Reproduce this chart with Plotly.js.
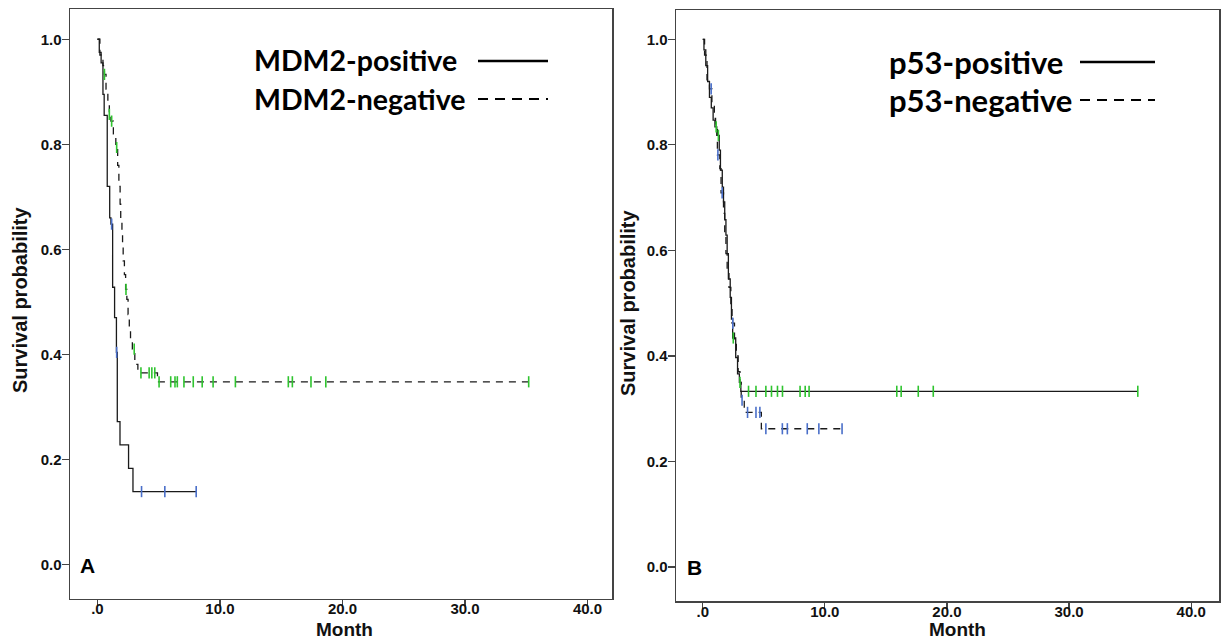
<!DOCTYPE html>
<html>
<head>
<meta charset="utf-8">
<script src="https://cdn.plot.ly/plotly-3.0.1.min.js"></script>
<style>html,body{margin:0;padding:0;background:#fff;}#chart{width:1226px;height:640px;}</style>
</head>
<body>
<div id="chart"></div>
<script>
// ---------- Panel A: MDM2 ----------
const A_pos_time = [0, 0.15, 0.3, 0.45, 0.55, 0.8, 1.0, 1.1, 1.24, 1.4, 1.55, 1.62, 1.84, 2.54, 2.9];
const A_pos_surv = [1.0, 0.975, 0.955, 0.895, 0.855, 0.72, 0.66, 0.648, 0.528, 0.47, 0.404, 0.272, 0.228, 0.183, 0.139];
const A_pos_censor = [1.16, 1.57, 3.6, 5.5, 8.06];

const A_neg_time = [0, 0.2, 0.45, 0.57, 0.7, 0.85, 0.97, 1.1, 1.3, 1.5, 1.65, 1.75, 1.85, 1.9, 2.0, 2.05, 2.1, 2.2, 2.3, 2.4, 2.5, 2.6, 2.7, 2.85, 3.05, 3.3, 4.9];
const A_neg_surv = [1.0, 0.97, 0.95, 0.933, 0.905, 0.875, 0.857, 0.844, 0.82, 0.794, 0.76, 0.72, 0.686, 0.657, 0.629, 0.606, 0.578, 0.552, 0.524, 0.505, 0.476, 0.451, 0.425, 0.41, 0.381, 0.365, 0.348];
const A_neg_censor = [0.57, 0.97, 1.16, 1.57, 2.33, 3.0, 3.55, 4.22, 4.44, 4.68, 5.03, 5.98, 6.33, 6.52, 7.06, 7.82, 8.55, 9.44, 11.26, 15.58, 15.91, 17.43, 18.64, 35.2];

// ---------- Panel B: p53 ----------
const B_pos_time = [0, 0.1, 0.25, 0.4, 0.55, 0.7, 0.85, 1.0, 1.15, 1.35, 1.45, 1.6, 1.7, 1.8, 1.9, 2.0, 2.1, 2.25, 2.35, 2.45, 2.7, 2.85, 3.0, 3.12];
const B_pos_surv = [1.0, 0.98, 0.95, 0.92, 0.89, 0.87, 0.847, 0.834, 0.818, 0.79, 0.752, 0.72, 0.692, 0.658, 0.629, 0.594, 0.546, 0.511, 0.47, 0.434, 0.397, 0.366, 0.35, 0.333];
const B_pos_censor = [1.1, 1.28, 2.5, 3.05, 3.75, 4.36, 5.17, 5.63, 6.12, 6.53, 7.97, 8.39, 8.71, 15.89, 16.25, 17.65, 18.88, 35.63];

const B_neg_time = [0, 0.15, 0.35, 0.55, 0.75, 0.95, 1.05, 1.2, 1.4, 1.5, 1.7, 1.8, 1.9, 2.0, 2.15, 2.3, 2.4, 2.6, 2.75, 2.9, 3.05, 3.15, 3.4, 4.8];
const B_neg_surv = [1.0, 0.97, 0.923, 0.906, 0.876, 0.85, 0.829, 0.781, 0.755, 0.709, 0.67, 0.63, 0.594, 0.56, 0.53, 0.49, 0.462, 0.43, 0.40, 0.37, 0.35, 0.316, 0.293, 0.262];
const B_neg_censor = [0.69, 1.24, 1.59, 2.46, 3.22, 3.67, 4.36, 4.68, 5.17, 6.52, 6.93, 8.56, 9.51, 11.41];

// ---------- labels ----------
const yTickVals = [0, 0.2, 0.4, 0.6, 0.8, 1.0];
const yTickText = ["0.0", "0.2", "0.4", "0.6", "0.8", "1.0"];
const xTickVals = [0, 10, 20, 30, 40];
const xTickText = [".0", "10.0", "20.0", "30.0", "40.0"];
const A_legend = ["MDM2-positive", "MDM2-negative"];
const B_legend = ["p53-positive", "p53-negative"];
const panelLabels = ["A", "B"];
const xTitle = "Month";
const yTitle = "Survival probability";

const GREEN = "#2fc42f", BLUE = "#4a6fc9", LINE = "#1a1a1a";

function survAt(t, s, time) {
  let v = s[0];
  for (let i = 0; i < t.length; i++) if (t[i] <= time) v = s[i];
  return v;
}
function stepTrace(t, s, cens, dashed, xa, ya) {
  const end = Math.max(t[t.length - 1], ...cens);
  return {
    x: t.concat([end]), y: s.concat([s[s.length - 1]]),
    type: "scatter", mode: "lines", xaxis: xa, yaxis: ya,
    line: {shape: "hv", color: LINE, width: 1.3, dash: dashed ? "7px,6px" : "solid"},
    hoverinfo: "skip", showlegend: false
  };
}
function censorTrace(t, s, cens, color, xa, ya) {
  return {
    x: cens, y: cens.map(c => survAt(t, s, c)),
    type: "scatter", mode: "markers", xaxis: xa, yaxis: ya,
    marker: {symbol: "line-ns-open", size: 8, line: {color: color, width: 1.6}, color: color},
    hoverinfo: "skip", showlegend: false
  };
}

const data = [
  stepTrace(A_neg_time, A_neg_surv, A_neg_censor, true, "x", "y"),
  stepTrace(A_pos_time, A_pos_surv, A_pos_censor, false, "x", "y"),
  censorTrace(A_neg_time, A_neg_surv, A_neg_censor, GREEN, "x", "y"),
  censorTrace(A_pos_time, A_pos_surv, A_pos_censor, BLUE, "x", "y"),
  stepTrace(B_neg_time, B_neg_surv, B_neg_censor, true, "x2", "y2"),
  stepTrace(B_pos_time, B_pos_surv, B_pos_censor, false, "x2", "y2"),
  censorTrace(B_neg_time, B_neg_surv, B_neg_censor, BLUE, "x2", "y2"),
  censorTrace(B_pos_time, B_pos_surv, B_pos_censor, GREEN, "x2", "y2")
];

const FAM = "Liberation Sans, Arial, sans-serif";
const tickFont = {family: FAM, size: 15, color: "#111", weight: "bold"};
const titleFont = {family: FAM, size: 20, color: "#111", weight: "bold"};
const xTitleFont = {family: FAM, size: 19, color: "#111", weight: "bold"};
function xax(domain, range) {
  return {domain: domain, range: range, tickvals: xTickVals, ticktext: xTickText, ticks: "outside", ticklen: 6,
    tickcolor: "#444", tickwidth: 1.2, showline: true, linecolor: "#444", linewidth: 1.5, mirror: true,
    showgrid: false, zeroline: false, tickfont: tickFont, automargin: false, ticklabelstandoff: -10};
}
function yax(domain, range) {
  return {domain: domain, range: range, tickvals: yTickVals, ticktext: yTickText, ticks: "outside", ticklen: 7,
    tickcolor: "#444", tickwidth: 1.2, showline: true, linecolor: "#444", linewidth: 1.5, mirror: true,
    showgrid: false, zeroline: false, tickfont: tickFont, automargin: false, ticklabelstandoff: -3};
}

const W = 1226, H = 640;
const legFontA = {family: "Lato, Noto Sans, sans-serif", size: 28.5, color: "#000", weight: "bold"};
const legFontB = {family: "Lato, Noto Sans, sans-serif", size: 31, color: "#000", weight: "bold"};
const panelFont = {family: FAM, size: 21, color: "#000", weight: "bold"};

function ann(x, y, text, font, extra) {
  return Object.assign({xref: "paper", yref: "paper", x: x / W, y: 1 - y / H, xanchor: "left", yanchor: "middle",
    text: text, showarrow: false, font: font}, extra || {});
}

const layout = {
  width: W, height: H, margin: {l: 0, r: 0, t: 0, b: 0},
  paper_bgcolor: "#fff", plot_bgcolor: "#fff", showlegend: false,
  xaxis: Object.assign(xax([70 / W, 612 / W], [-2.24, 42.0]), {anchor: "y"}),
  yaxis: Object.assign(yax([1 - 598.6 / H, 1 - 9 / H], [-0.0647, 1.0576]), {anchor: "x"}),
  xaxis2: Object.assign(xax([676 / W, 1219 / W], [-2.19, 42.28]), {anchor: "y2"}),
  yaxis2: Object.assign(yax([1 - 601 / H, 1 - 10 / H], [-0.0644, 1.0555]), {anchor: "x2"}),
  annotations: [
    ann(252, 60, A_legend[0], legFontA),
    ann(252, 99, A_legend[1], legFontA),
    ann(887, 62, B_legend[0], legFontB),
    ann(887, 100, B_legend[1], legFontB),
    ann(78, 565, panelLabels[0], panelFont),
    ann(685, 567, panelLabels[1], panelFont),
    ann(344, 629, xTitle, xTitleFont, {xanchor: "center"}),
    ann(957, 629, xTitle, xTitleFont, {xanchor: "center"}),
    ann(20, 300, yTitle, titleFont, {xanchor: "center", textangle: -90}),
    ann(628, 303, yTitle, titleFont, {xanchor: "center", textangle: -90})
  ],
  shapes: [
    {type: "line", xref: "paper", yref: "paper", x0: 478 / W, x1: 548 / W, y0: 1 - 61 / H, y1: 1 - 61 / H, line: {color: "#000", width: 2.5}},
    {type: "line", xref: "paper", yref: "paper", x0: 478 / W, x1: 548 / W, y0: 1 - 99 / H, y1: 1 - 99 / H, line: {color: "#000", width: 2.2, dash: "10px,7px"}},
    {type: "line", xref: "paper", yref: "paper", x0: 1080 / W, x1: 1155 / W, y0: 1 - 62 / H, y1: 1 - 62 / H, line: {color: "#000", width: 2.5}},
    {type: "line", xref: "paper", yref: "paper", x0: 1080 / W, x1: 1155 / W, y0: 1 - 100 / H, y1: 1 - 100 / H, line: {color: "#000", width: 2.2, dash: "10px,7px"}}
  ]
};

Plotly.newPlot("chart", data, layout, {staticPlot: true, displayModeBar: false});
</script>
</body>
</html>
